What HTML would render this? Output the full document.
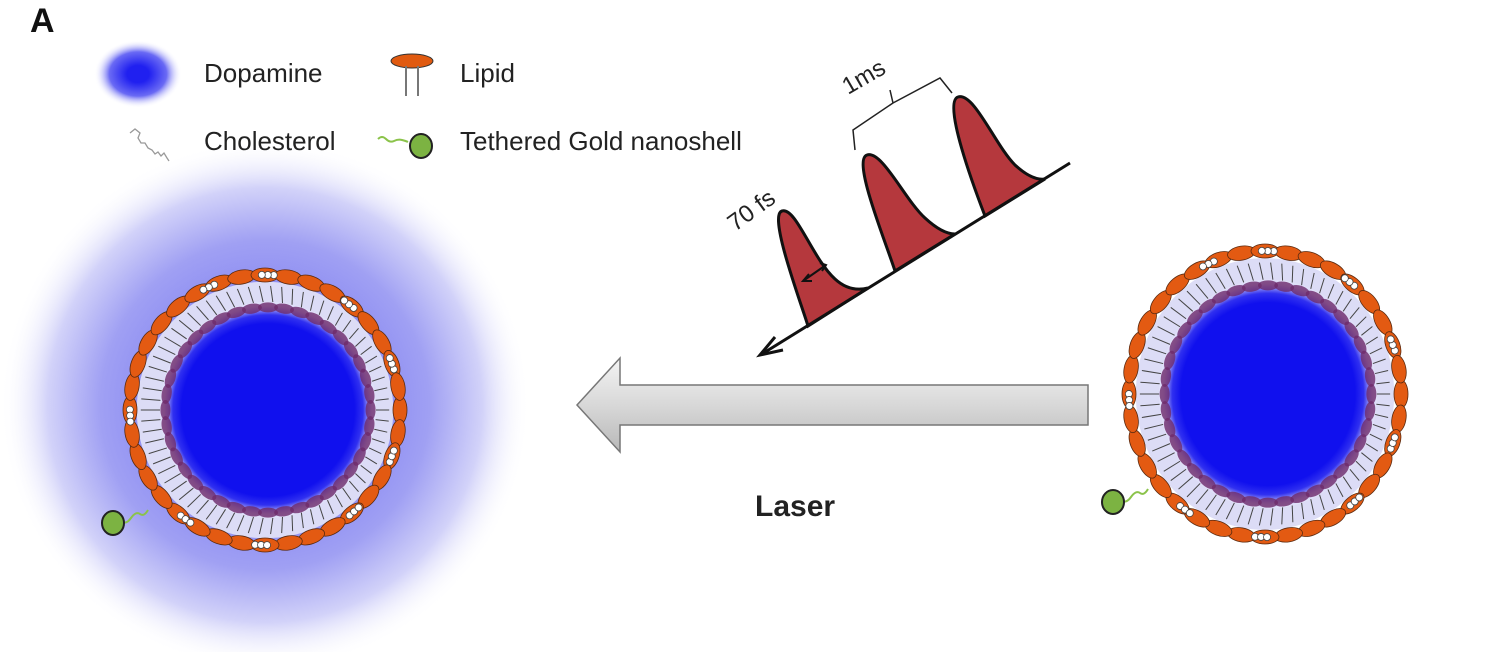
<!DOCTYPE html>
<html><head><meta charset="utf-8"><style>
html,body{margin:0;padding:0;background:#fff;}
svg{display:block;}
text{font-family:"Liberation Sans",sans-serif;}
</style></head><body>
<svg id="s" width="1500" height="652" viewBox="0 0 1500 652" xmlns="http://www.w3.org/2000/svg">
<defs>
<radialGradient id="halo" cx="265" cy="405" r="265" gradientUnits="userSpaceOnUse">
<stop offset="0.4" stop-color="#8a8af2"/><stop offset="0.62" stop-color="#a0a0f3"/><stop offset="0.82" stop-color="#d2d2f9"/><stop offset="1" stop-color="#fff" stop-opacity="0"/>
</radialGradient>
<radialGradient id="dop" cx="0.5" cy="0.5" r="0.5">
<stop offset="0.25" stop-color="#2020f0"/><stop offset="0.65" stop-color="#6a6af4"/><stop offset="1" stop-color="#fff" stop-opacity="0"/>
</radialGradient>
<radialGradient id="core" cx="0.5" cy="0.5" r="0.5">
<stop offset="0.8" stop-color="#1010ee"/><stop offset="0.88" stop-color="#3030f0"/><stop offset="0.96" stop-color="#c8c8f6"/><stop offset="1" stop-color="#e4e4fa"/>
</radialGradient>
<linearGradient id="arr" x1="0" y1="0" x2="0" y2="1">
<stop offset="0" stop-color="#f4f4f4"/><stop offset="0.5" stop-color="#d8d8d8"/><stop offset="1" stop-color="#b8b8b8"/>
</linearGradient>
</defs>
<circle cx="265" cy="405" r="265" fill="url(#halo)"/>
<text x="30" y="32" font-size="34" font-weight="bold" fill="#111">A</text>
<ellipse cx="138" cy="74" rx="44" ry="34" fill="url(#dop)"/>
<text x="204" y="82" font-size="26" fill="#222">Dopamine</text>
<ellipse cx="412" cy="61" rx="21" ry="7" fill="#e05a10" stroke="#333" stroke-width="1"/>
<line x1="406" y1="66" x2="406" y2="96" stroke="#777" stroke-width="2"/>
<line x1="418" y1="66" x2="418" y2="96" stroke="#777" stroke-width="2"/>
<text x="460" y="82" font-size="26" fill="#222">Lipid</text>
<path d="M130,133 l5,-4 l5,4 l-2,5 l3,5 l4,0 l3,5 l4,2 l3,4 l3,-2 l3,4 l3,-3 l3,5 m0,0 l2,3" fill="none" stroke="#999" stroke-width="1.3"/>
<text x="204" y="150" font-size="26" fill="#222">Cholesterol</text>
<path d="M378,139 q4,-4 8,0 t8,2 t8,-1 t6,2" fill="none" stroke="#8bc34a" stroke-width="2"/>
<ellipse cx="421" cy="146" rx="11" ry="12" fill="#7cb342" stroke="#222" stroke-width="2"/>
<text x="460" y="150" font-size="26" fill="#222">Tethered Gold nanoshell</text>

<!-- pulses -->
<path d="M808,326 C800,300 768,215 782,211 C796,207 812,258 835,279 C848,291 860,290 868,288 Z" fill="#b5383d" stroke="#111" stroke-width="3"/>
<path d="M895,271 C885,240 852,160 867,155 C882,150 905,200 925,218 C938,230 948,234 955,234 Z" fill="#b5383d" stroke="#111" stroke-width="3"/>
<path d="M985,216 C975,190 942,102 958,97 C974,92 995,145 1015,165 C1028,177 1038,180 1045,179 Z" fill="#b5383d" stroke="#111" stroke-width="3"/>
<line x1="762" y1="354" x2="1070" y2="163" stroke="#111" stroke-width="3"/>
<path d="M775,337 L760,355 L783,350" fill="none" stroke="#111" stroke-width="3"/>
<line x1="803" y1="281" x2="826" y2="265" stroke="#111" stroke-width="2"/>
<path d="M809,274 l-6,7 l9,0 M820,263 l6,2 l-4,6" fill="none" stroke="#111" stroke-width="2"/>
<path d="M855,150 L853,130 L893,103 L940,78 L952,93 M893,103 L890,90" fill="none" stroke="#222" stroke-width="1.5"/>
<text transform="translate(848,95) rotate(-30)" font-size="24" fill="#222">1ms</text>
<text transform="translate(735,232) rotate(-36)" font-size="24" fill="#222">70 fs</text>

<!-- big arrow -->
<path d="M1088,385 L620,385 L620,358 L577,405 L620,452 L620,425 L1088,425 Z" fill="url(#arr)" stroke="#777" stroke-width="1.5"/>
<text x="755" y="516" font-size="30" font-weight="bold" fill="#222">Laser</text>
<g id="v1"></g><g id="v2"></g>
</svg>
<script>
var NS="http://www.w3.org/2000/svg";
function el(g,t,a){var e=document.createElementNS(NS,t);for(var k in a)e.setAttribute(k,a[k]);g.appendChild(e);return e;}
function ves(id,cx,cy,rx,ry,gx,gy){
 var g=document.getElementById(id);
 el(g,"ellipse",{cx:cx,cy:cy,rx:rx*0.95,ry:ry*0.95,fill:"#dcdcf6"});
 el(g,"ellipse",{cx:cx+3,cy:cy,rx:rx*0.8,ry:ry*0.8,fill:"url(#core)"});
 var i,a;
 for(i=0;i<70;i++){a=i/70*2*Math.PI;var c=Math.cos(a),s=Math.sin(a);
  el(g,"line",{x1:cx+3+c*rx*0.8,y1:cy+s*ry*0.8,x2:cx+c*rx*0.92,y2:cy+s*ry*0.92,stroke:"#444","stroke-width":1});}
 for(i=0;i<40;i++){a=i/40*2*Math.PI;var x=cx+3+Math.cos(a)*rx*0.76,y=cy+Math.sin(a)*ry*0.76;
  el(g,"ellipse",{cx:x,cy:y,rx:10,ry:5,fill:"#6e2a6a","fill-opacity":0.8,transform:"rotate("+(a*180/Math.PI+90)+" "+x+" "+y+")"});}
 for(i=0;i<36;i++){a=i/36*2*Math.PI;var x=cx+Math.cos(a)*rx,y=cy+Math.sin(a)*ry;
  el(g,"ellipse",{cx:x,cy:y,rx:14,ry:7,fill:"#e35a12",stroke:"#5a2a10","stroke-width":0.8,transform:"rotate("+(a*180/Math.PI+90)+" "+x+" "+y+")"});}
 [-2.0,-1.55,-0.9,-0.35,0.35,0.85,1.6,2.2,3.1].forEach(function(a){
  var x=cx+Math.cos(a)*rx,y=cy+Math.sin(a)*ry;
  for(var j=0;j<3;j++)el(g,"circle",{cx:x+(j-1)*6*Math.sin(a),cy:y-(j-1)*6*Math.cos(a),r:3.5,fill:"#fff",stroke:"#444","stroke-width":0.8});
 });
 el(g,"path",{d:"M"+gx+","+gy+" q5,-6 9,-2 t9,-3 t9,-4 t8,-4",fill:"none",stroke:"#8bc34a","stroke-width":2});
 el(g,"ellipse",{cx:gx,cy:gy,rx:11,ry:12,fill:"#7cb342",stroke:"#222","stroke-width":2});
}
ves("v1",265,410,135,135,113,523);
ves("v2",1265,394,136,143,1113,502);
</script>
</body></html>
